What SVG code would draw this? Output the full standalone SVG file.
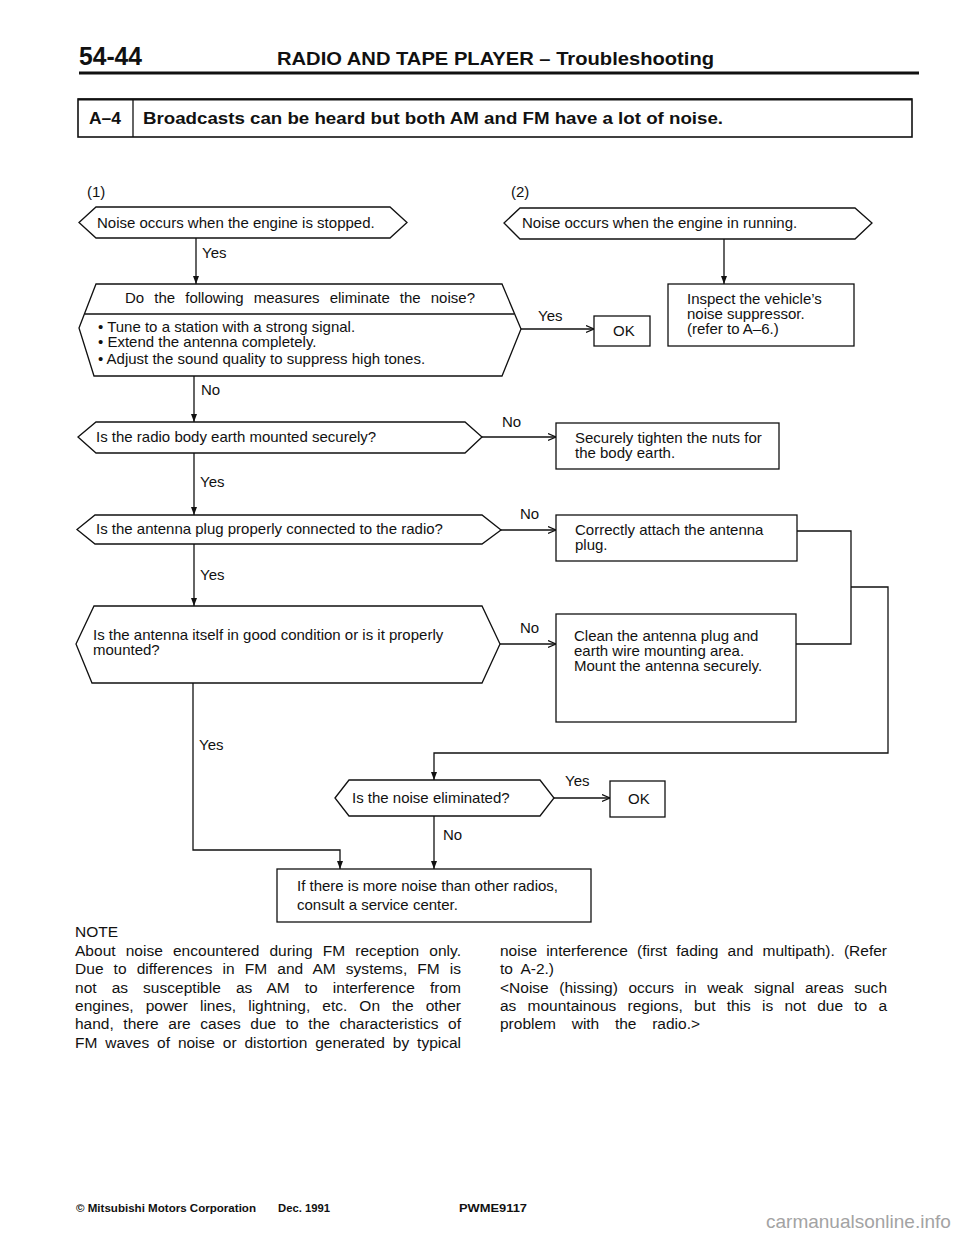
<svg xmlns="http://www.w3.org/2000/svg" width="960" height="1239" viewBox="0 0 960 1239">
<style>
.t{font-family:"Liberation Sans",Arial,Helvetica,sans-serif;font-size:15px;fill:#111}
.n{font-family:"Liberation Sans",Arial,Helvetica,sans-serif;font-size:15.5px;fill:#111}
.b{font-family:"Liberation Sans",Arial,Helvetica,sans-serif;font-weight:bold;fill:#111}
.s{fill:#fff;stroke:#111;stroke-width:1.3}
.c{fill:none;stroke:#111;stroke-width:1.3}
.wm{font-family:"Liberation Sans",Arial,sans-serif;font-size:19px;fill:#a3a3a3}
</style>
<defs>
<marker id="ah" markerWidth="9" markerHeight="9" refX="8" refY="4.5" orient="auto" markerUnits="userSpaceOnUse"><path d="M0,1 L8,4.5 L0,8" fill="none" stroke="#111" stroke-width="1.2"/></marker>
<marker id="av" markerWidth="9" markerHeight="9" refX="8" refY="4.5" orient="auto" markerUnits="userSpaceOnUse"><path d="M0,1.5 L8,4.5 L0,7.5 z" fill="#111"/></marker>
</defs>
<rect width="960" height="1239" fill="#fff"/>

<g id="header">
<text class="b" x="79" y="65" font-size="25" textLength="63" lengthAdjust="spacingAndGlyphs">54-44</text>
<text class="b" x="277" y="65" font-size="19" textLength="437" lengthAdjust="spacingAndGlyphs">RADIO AND TAPE PLAYER – Troubleshooting</text>
<line x1="79" y1="73" x2="919" y2="73" stroke="#111" stroke-width="3"/>
<rect x="78" y="99" width="834" height="38" fill="none" stroke="#111" stroke-width="1.6"/>
<line x1="78" y1="99.5" x2="912" y2="99.5" stroke="#111" stroke-width="2.2"/>
<line x1="133" y1="99" x2="133" y2="137" stroke="#111" stroke-width="1.3"/>
<text class="b" x="89" y="124" font-size="16" textLength="32" lengthAdjust="spacingAndGlyphs">A–4</text>
<text class="b" x="143" y="124" font-size="16" textLength="580" lengthAdjust="spacingAndGlyphs">Broadcasts can be heard but both AM and FM have a lot of noise.</text>
</g>

<g id="section-labels">
<text class="t" x="87" y="197">(1)</text>
<text class="t" x="511" y="197">(2)</text>
</g>

<g id="connectors">
<line class="c" x1="196" y1="238" x2="196" y2="284" marker-end="url(#av)"/>
<line class="c" x1="521" y1="329" x2="594" y2="329" marker-end="url(#ah)"/>
<line class="c" x1="724" y1="239" x2="724" y2="284" marker-end="url(#av)"/>
<line class="c" x1="194" y1="376" x2="194" y2="422" marker-end="url(#av)"/>
<line class="c" x1="482" y1="437" x2="556" y2="437" marker-end="url(#ah)"/>
<line class="c" x1="194" y1="453" x2="194" y2="515" marker-end="url(#av)"/>
<line class="c" x1="501" y1="530" x2="556" y2="530" marker-end="url(#ah)"/>
<line class="c" x1="194" y1="544" x2="194" y2="606" marker-end="url(#av)"/>
<line class="c" x1="500" y1="644" x2="556" y2="644" marker-end="url(#ah)"/>
<polyline class="c" points="797,531 851,531 851,644 796,644"/>
<polyline class="c" points="851,587 888,587 888,753 434,753 434,780" marker-end="url(#av)"/>
<polyline class="c" points="193,683 193,850 340,850 340,869" marker-end="url(#av)"/>
<line class="c" x1="554" y1="798" x2="610" y2="798" marker-end="url(#ah)"/>
<line class="c" x1="434" y1="816" x2="434" y2="869" marker-end="url(#av)"/>
<text class="t" x="202" y="258">Yes</text>
<text class="t" x="538" y="321">Yes</text>
<text class="t" x="201" y="395">No</text>
<text class="t" x="502" y="427">No</text>
<text class="t" x="200" y="487">Yes</text>
<text class="t" x="520" y="519">No</text>
<text class="t" x="200" y="580">Yes</text>
<text class="t" x="520" y="633">No</text>
<text class="t" x="199" y="750">Yes</text>
<text class="t" x="565" y="786">Yes</text>
<text class="t" x="443" y="840">No</text>
</g>

<g id="q-engine-stopped">
<polygon class="s" points="79,222.5 96,207 390,207 407,222.5 390,238 96,238"/>
<text class="t" x="97" y="228">Noise occurs when the engine is stopped.</text>
</g>

<g id="q-measures">
<polygon class="s" points="79,328 96,284 502,284 521,329 502,376 94,376"/>
<line class="c" x1="85" y1="314" x2="514" y2="314"/>
<text class="t" x="125" y="303" word-spacing="5.9" textLength="350" lengthAdjust="spacing">Do the following measures eliminate the noise?</text>
<text class="t"><tspan x="98" y="332">• Tune to a station with a strong signal.</tspan><tspan x="98" y="347">• Extend the antenna completely.</tspan><tspan x="98" y="364">• Adjust the sound quality to suppress high tones.</tspan></text>
</g>

<g id="ok-1">
<rect class="s" x="594" y="316" width="56" height="30"/>
<text class="t" x="613" y="336">OK</text>
</g>

<g id="q-engine-running">
<polygon class="s" points="504,223 520,208 855,208 872,223 855,239 520,239"/>
<text class="t" x="522" y="228">Noise occurs when the engine in running.</text>
</g>

<g id="inspect-suppressor">
<rect class="s" x="668" y="284" width="186" height="62"/>
<text class="t"><tspan x="687" y="304">Inspect the vehicle’s</tspan><tspan x="687" y="319">noise suppressor.</tspan><tspan x="687" y="334">(refer to A–6.)</tspan></text>
</g>

<g id="q-body-earth">
<polygon class="s" points="78,437 96,422 465,422 482,437 465,453 96,453"/>
<text class="t" x="96" y="442">Is the radio body earth mounted securely?</text>
</g>

<g id="tighten-nuts">
<rect class="s" x="556" y="423" width="223" height="46"/>
<text class="t"><tspan x="575" y="443">Securely tighten the nuts for</tspan><tspan x="575" y="458">the body earth.</tspan></text>
</g>

<g id="q-antenna-plug">
<polygon class="s" points="77,529.5 95,515 482,515 501,530 482,544 95,544"/>
<text class="t" x="96" y="534">Is the antenna plug properly connected to the radio?</text>
</g>

<g id="attach-plug">
<rect class="s" x="556" y="515" width="241" height="46"/>
<text class="t"><tspan x="575" y="535">Correctly attach the antenna</tspan><tspan x="575" y="550">plug.</tspan></text>
</g>

<g id="q-antenna-condition">
<polygon class="s" points="76,644 94,606 482,606 500,644 482,683 92,683"/>
<text class="t"><tspan x="93" y="640">Is the antenna itself in good condition or is it properly</tspan><tspan x="93" y="655">mounted?</tspan></text>
</g>

<g id="clean-plug">
<rect class="s" x="556" y="614" width="240" height="108"/>
<text class="t"><tspan x="574" y="641">Clean the antenna plug and</tspan><tspan x="574" y="656">earth wire mounting area.</tspan><tspan x="574" y="671">Mount the antenna securely.</tspan></text>
</g>

<g id="q-noise-eliminated">
<polygon class="s" points="335,798 349,780 540,780 554,798 540,816 349,816"/>
<text class="t" x="352" y="803">Is the noise eliminated?</text>
</g>

<g id="ok-2">
<rect class="s" x="610" y="781" width="55" height="36"/>
<text class="t" x="628" y="804">OK</text>
</g>

<g id="service-center">
<rect class="s" x="277" y="869" width="314" height="53"/>
<text class="t"><tspan x="297" y="891">If there is more noise than other radios,</tspan><tspan x="297" y="910">consult a service center.</tspan></text>
</g>

<g id="note">
<text class="n" x="75" y="937">NOTE</text>
<text class="n" x="75" y="956" word-spacing="5.7" textLength="386" lengthAdjust="spacing">About noise encountered during FM reception only.</text>
<text class="n" x="75" y="974" word-spacing="5.7" textLength="386" lengthAdjust="spacing">Due to differences in FM and AM systems, FM is</text>
<text class="n" x="75" y="993" word-spacing="10.7" textLength="386" lengthAdjust="spacing">not as susceptible as AM to interference from</text>
<text class="n" x="75" y="1011" word-spacing="7.7" textLength="386" lengthAdjust="spacing">engines, power lines, lightning, etc. On the other</text>
<text class="n" x="75" y="1029" word-spacing="5.3" textLength="386" lengthAdjust="spacing">hand, there are cases due to the characteristics of</text>
<text class="n" x="75" y="1048" word-spacing="3.6" textLength="386" lengthAdjust="spacing">FM waves of noise or distortion generated by typical</text>
<text class="n" x="500" y="956" word-spacing="4.8" textLength="387" lengthAdjust="spacing">noise interference (first fading and multipath). (Refer</text>
<text class="n" x="500" y="974" word-spacing="4">to A-2.)</text>
<text class="n" x="500" y="993" word-spacing="6.2" textLength="387" lengthAdjust="spacing">&lt;Noise (hissing) occurs in weak signal areas such</text>
<text class="n" x="500" y="1011" word-spacing="6.9" textLength="387" lengthAdjust="spacing">as mountainous regions, but this is not due to a</text>
<text class="n" x="500" y="1029" word-spacing="11.4" textLength="200" lengthAdjust="spacing">problem with the radio.&gt;</text>
</g>

<g id="footer">
<text class="b" x="76" y="1212" font-size="11.5" textLength="180" lengthAdjust="spacingAndGlyphs">© Mitsubishi Motors Corporation</text>
<text class="b" x="278" y="1212" font-size="11.5" textLength="52" lengthAdjust="spacingAndGlyphs">Dec. 1991</text>
<text class="b" x="459" y="1212" font-size="11.5" textLength="68" lengthAdjust="spacingAndGlyphs">PWME9117</text>
<text class="wm" x="766" y="1228">carmanualsonline.info</text>
</g>
</svg>
